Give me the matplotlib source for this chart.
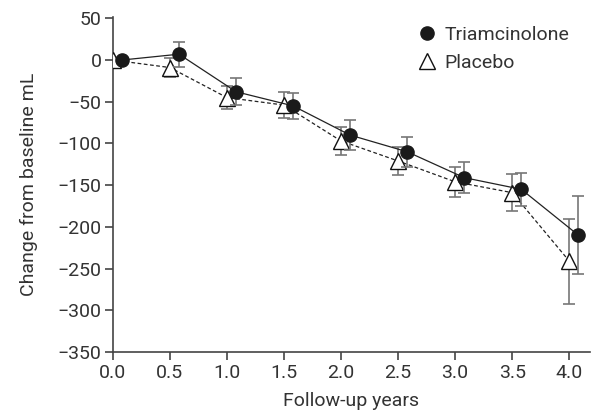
import matplotlib
matplotlib.use("Agg")
import matplotlib.pyplot as plt
import numpy as np

years = [0.0, 0.5, 1.0, 1.5, 2.0, 2.5, 3.0, 3.5, 4.0]
triam_mean = [0, 7, -38, -55, -90, -110, -141, -155, -210]
triam_err = [0, 15, 16, 16, 18, 18, 19, 20, 47]
placebo_mean = [0, -9, -45, -54, -97, -121, -146, -159, -241]
placebo_err = [0, 11, 14, 16, 17, 17, 18, 22, 51]
xticks = [0.0, 0.5, 1.0, 1.5, 2.0, 2.5, 3.0, 3.5, 4.0]
yticks = [50, 0, -50, -100, -150, -200, -250, -300, -350]

plt.rcParams['font.family'] = ['Roboto', 'DejaVu Sans']
plt.rcParams['axes.unicode_minus'] = True

FS = 14
txt = '#333333'
fig = plt.figure(figsize=(6.0, 4.13), dpi=100)
ax = fig.add_axes([0.188, 0.1477, 0.795, 0.812])

x = np.array(years)
offset = 0.08
ax.errorbar(x, placebo_mean, yerr=placebo_err, fmt='none', ecolor='#777777',
            elinewidth=1.2, capsize=4, capthick=1.2, zorder=2)
ax.plot(x, placebo_mean, linestyle=(0, (3, 2)), color='#222222', linewidth=0.9, zorder=3)
ax.plot(x, placebo_mean, linestyle='none', marker='^', markersize=11.5,
        markerfacecolor='white', markeredgecolor='#111111', markeredgewidth=1.0,
        zorder=4, label='Placebo')

ax.errorbar(x + offset, triam_mean, yerr=triam_err, fmt='none', ecolor='#777777',
            elinewidth=1.2, capsize=4, capthick=1.2, zorder=5)
ax.plot(x + offset, triam_mean, linestyle='-', color='#222222', linewidth=0.9, zorder=6)
ax.plot(x + offset, triam_mean, linestyle='none', marker='o', markersize=9.5,
        markerfacecolor='#1a1a1a', markeredgecolor='#1a1a1a', zorder=7,
        label='Triamcinolone')

ax.set_xlim(0, 4.18)
ax.set_ylim(-350, 52)
ax.set_xticks(xticks)
ax.set_xticklabels([f"{v:.1f}" for v in xticks])
ax.set_yticks(yticks)
ax.set_yticklabels([f"{v}".replace('-', '\u2212') for v in yticks])

for s in ['top', 'right']:
    ax.spines[s].set_visible(False)
for s in ['left', 'bottom']:
    ax.spines[s].set_color('#444444')
    ax.spines[s].set_linewidth(1.2)
ax.tick_params(axis='both', direction='out', length=6, width=1.2, color='#444444',
               labelsize=FS, labelcolor=txt)
ax.tick_params(axis='x', pad=3)
ax.tick_params(axis='y', pad=2)

ax.set_xlabel('Follow-up years', fontsize=FS, color=txt, labelpad=7)
ax.set_ylabel('Change from baseline mL', fontsize=FS, color=txt, labelpad=14)

handles, labels = ax.get_legend_handles_labels()
order = [labels.index('Triamcinolone'), labels.index('Placebo')]
leg = fig.legend([handles[i] for i in order], [labels[i] for i in order],
                 loc='upper left', bbox_to_anchor=(0.695, 0.938), frameon=False,
                 fontsize=FS, handlelength=1.0, handletextpad=0.43, labelspacing=0.55,
                 borderpad=0, borderaxespad=0)
for t in leg.get_texts():
    t.set_color(txt)

fig.savefig('out.png', dpi=100)
